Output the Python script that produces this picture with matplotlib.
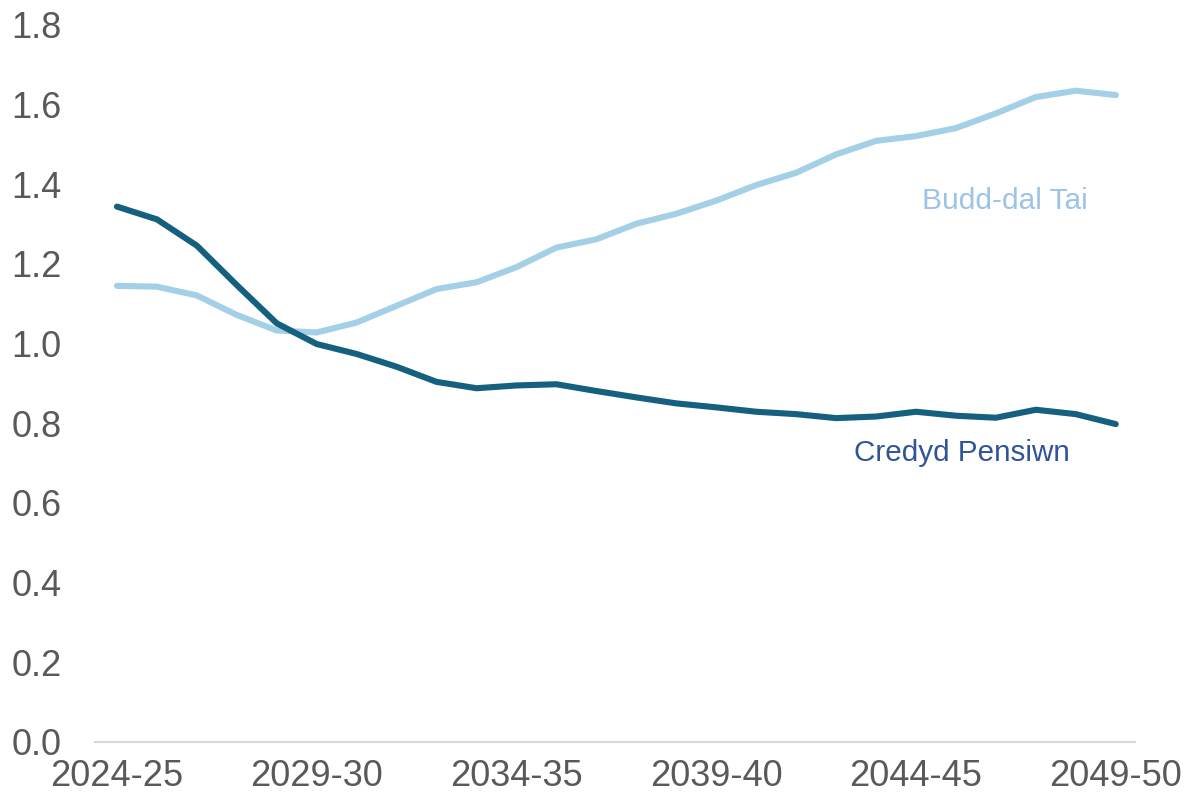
import matplotlib
matplotlib.use("Agg")
import matplotlib.pyplot as plt

# years 2024-25 .. 2049-50
years = [f"{y}-{str(y + 1)[-2:]}" for y in range(2024, 2050)]
tick_labels = ["2024-25", "2029-30", "2034-35", "2039-40", "2044-45", "2049-50"]

pension_credit = [1.344, 1.312, 1.246, 1.147, 1.051, 0.999, 0.974, 0.942, 0.904, 0.888,
                  0.895, 0.898, 0.881, 0.865, 0.850, 0.840, 0.829, 0.823, 0.813, 0.817,
                  0.829, 0.819, 0.814, 0.834, 0.823, 0.798]
housing_benefit = [1.145, 1.143, 1.121, 1.072, 1.033, 1.028, 1.053, 1.095, 1.137, 1.154,
                   1.192, 1.241, 1.262, 1.301, 1.326, 1.359, 1.398, 1.429, 1.475, 1.509,
                   1.521, 1.541, 1.578, 1.619, 1.635, 1.624]

plt.rcParams['font.family'] = ['Liberation Sans', 'DejaVu Sans']

fig = plt.figure(figsize=(11.93, 8.05), dpi=100)
ax = fig.add_axes([0.0796, 0.0783, 0.8714, 0.8907])

x = list(range(len(years)))
ax.plot(x, housing_benefit, color='#A3CFE7', lw=4.4, solid_capstyle='round')
ax.plot(x, pension_credit, color='#15607F', lw=4.4, solid_capstyle='round')

ax.set_xlim(-0.55, 25.47)
ax.set_ylim(0, 1.8)
ax.set_yticks([i * 0.2 for i in range(10)])
ax.set_yticklabels([f"{i * 0.2:.1f}" for i in range(10)])
ax.set_xticks([years.index(t) for t in tick_labels])
ax.set_xticklabels(tick_labels)

for s in ['top', 'right', 'left']:
    ax.spines[s].set_visible(False)
ax.spines['bottom'].set_color('#D9D9D9')
ax.spines['bottom'].set_linewidth(1.5)
ax.tick_params(axis='both', length=0, labelsize=26, colors='#595959')
ax.tick_params(axis='x', pad=12)
ax.tick_params(axis='y', pad=24)

ax.text(20.15, 1.358, "Budd-dal Tai", color='#9DC3E6', fontsize=21.5, va='center', ha='left')
ax.text(18.45, 0.725, "Credyd Pensiwn", color='#2F5597', fontsize=21.3, va='center', ha='left')

fig.savefig("out.png", dpi=100)
